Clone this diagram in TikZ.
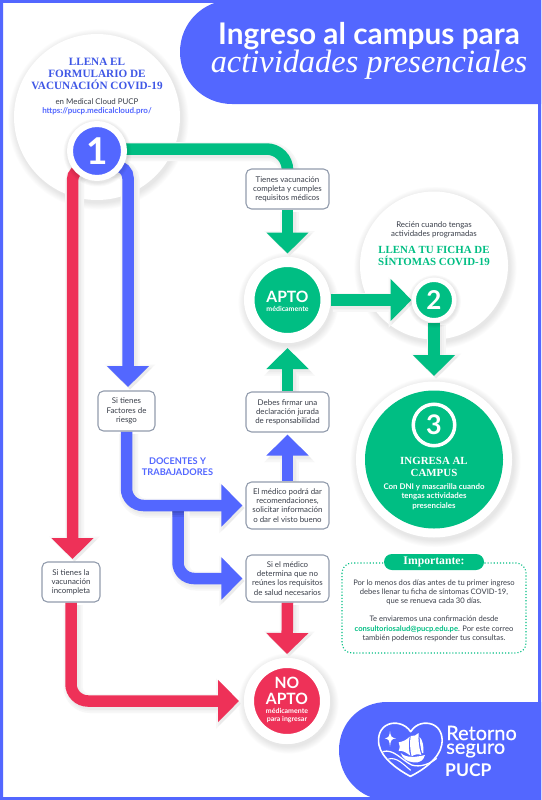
\documentclass[tikz,border=0pt]{standalone}
\usepackage{fontspec}
\setmainfont{Lato}
\newfontfamily\srf{Liberation Serif}
\newfontfamily\medf[FakeBold=0.3]{Lato}
\usetikzlibrary{arrows.meta}
\definecolor{bl}{HTML}{5367FF}
\definecolor{gr}{HTML}{00BE83}
\definecolor{rd}{HTML}{EE3158}
\definecolor{dk}{HTML}{3A3F4A}
\definecolor{edge}{HTML}{929CAD}
\definecolor{hd}{HTML}{3F57E6}
\pgfdeclarelayer{bg}\pgfdeclarelayer{sh}\pgfdeclarelayer{arr}
\pgfsetlayers{bg,sh,arr,main}
\newcommand\fs[2]{\fontsize{#1}{#2}\selectfont}
\tikzset{
  infobox/.style={rectangle,rounded corners=5.5pt,draw=edge,line width=1.1pt,fill=white,text=dk,align=center,inner sep=0pt,
     font=\fs{7.9}{9.2},minimum width=83pt},
  numc/.style={circle,draw=white,inner sep=0pt,text=white,font=\bfseries},
  lab/.style={inner sep=0pt,align=center},
  fl/.style={line width=11.5pt,-{Triangle[length=21pt,width=41pt]}},
  shA/.style={line width=19pt,-{Triangle[length=25pt,width=49pt]},transform canvas={shift={(2pt,-2.5pt)}}},
  shB/.style={line width=15.5pt,-{Triangle[length=23pt,width=45pt]},transform canvas={shift={(2pt,-2.5pt)}}},
  shC/.style={line width=12.5pt,-{Triangle[length=21.5pt,width=42pt]},transform canvas={shift={(2pt,-2.5pt)}}},
}
% colour, options, path
\newcommand\flow[3]{%
  \begin{pgfonlayer}{sh}
    \draw[shA,black!3,#2] #3;
    \draw[shB,black!5,#2] #3;
    \draw[shC,black!8,#2] #3;
  \end{pgfonlayer}
  \begin{pgfonlayer}{arr}
    \draw[fl,#1,#2] #3;
  \end{pgfonlayer}}
\newcommand\softdisc[3]{%
  \begin{pgfonlayer}{bg}
  \foreach \k in {8,7,...,1}
    \fill[black,opacity=.012] (#1+1.5,#2+2.5) circle ({#3+\k*0.9});
  \fill[white] (#1,#2) circle (#3);
  \end{pgfonlayer}}
\newcommand\halo[3]{%
  \begin{pgfonlayer}{arr}
  \foreach \k in {5,4,...,1}
    \fill[black,opacity=.02] (#1+.5,#2+1.5) circle ({#3+\k*0.8});
  \end{pgfonlayer}}
\begin{document}
\begin{tikzpicture}[x=1pt,y=-1pt]
\useasboundingbox (0,0) rectangle (541,800);
\begin{pgfonlayer}{bg}
\fill[white] (0,0) rectangle (541,800);
\end{pgfonlayer}
% frame
\fill[bl,even odd rule] (0,0) rectangle (541,800) (3,3) rectangle (538,797);
% title and logo blobs
\fill[bl] (232,0) .. controls (203,0) and (180,23) .. (180,52) .. controls (180,81) and (203,104) .. (232,104) -- (541,104) -- (541,0) -- cycle;
\fill[bl] (387,702) .. controls (360,702) and (339,723) .. (339,750) .. controls (339,777) and (360,800) .. (387,800) -- (541,800) -- (541,702) -- cycle;
\node[lab,text=white,font=\fs{29.8}{30}\bfseries] (title1) at (369,36) {Ingreso al campus para};
\node[lab,text=white,font=\fs{32.4}{32}\srf\itshape] (title2) at (369,65) {actividades presenciales};
% big discs
\softdisc{97}{117}{83}
\softdisc{434}{265.5}{74}
\softdisc{434}{459.5}{78}
\node[lab,text=hd,font=\fs{11.2}{12.1}\srf\bfseries] (t1) at (97,74) {LLENA EL\\FORMULARIO DE\\VACUNACIÓN COVID-19};
\node[lab,text=dk,font=\fs{7.9}{9.3}] (t1b) at (97,102) {en Medical Cloud PUCP};
\node[lab,text=bl,font=\fs{8}{9.3}\bfseries] (t1c) at (97,111) {https://pucp.medicalcloud.pro/};
\node[lab,text=dk,font=\fs{7.9}{9.3}] (t2) at (434,229.5) {Recién cuando tengas\\actividades programadas};
\node[lab,text=gr,font=\fs{10.9}{12.1}\srf\bfseries] (t2b) at (434,256) {LLENA TU FICHA DE\\SÍNTOMAS COVID-19};
% circles
\softdisc{287}{300}{43}
\softdisc{287}{701}{43}
\node[numc,fill=bl,line width=6pt,minimum size=54pt,font=\fs{37}{37}\bfseries] (n1) at (97,151) {1};
\node[numc,fill=gr,line width=10pt,minimum size=76pt] (apto) at (287.5,300) {};
\node[lab,text=white,font=\fs{15.6}{16}\bfseries] (aptot) at (287.5,296.5) {APTO};
\node[lab,text=white,font=\fs{7}{8}\bfseries] (aptos) at (287.5,308.5) {médicamente};
\node[numc,fill=gr,line width=4.5pt,minimum size=40.5pt,font=\fs{26}{26}\bfseries] (n2) at (434,300) {2};
\node[numc,fill=rd,line width=10pt,minimum size=76pt] (noapto) at (287,701) {};
\node[lab,text=white,font=\fs{15.6}{16}\bfseries] (not) at (287,690.5) {NO\\APTO};
\node[lab,text=white,font=\fs{7}{8.3}\bfseries] (nos) at (287,715.5) {médicamente\\para ingresar};
\node[circle,fill=gr,minimum size=138pt,inner sep=0pt] (c3) at (434,459.5) {};
\node[numc,fill=gr,line width=3.5pt,minimum size=41.5pt,font=\fs{27}{27}\bfseries] (n3) at (434,425) {3};
\node[lab,text=white,font=\fs{10.9}{12.3}\srf\bfseries] (t3) at (434,467) {INGRESA AL\\CAMPUS};
\node[lab,text=white,font=\fs{7.9}{9.3}\bfseries] (t3b) at (434,496.5) {Con DNI y mascarilla cuando\\tengas actividades\\presenciales};
% boxes
\node[infobox,minimum height=40pt] (b1) at (287.5,189) {Tienes vacunación\\completa y cumples\\requisitos médicos};
\node[infobox,minimum width=57pt,minimum height=40pt] (b2) at (126.5,411) {Si tienes\\Factores de\\riesgo};
\node[infobox,minimum height=47pt] (b3) at (287.5,505.5) {El médico podrá dar\\recomendaciones,\\solicitar información\\o dar el visto bueno};
\node[infobox,minimum height=40pt] (b4) at (287.5,412) {Debes firmar una\\declaración jurada\\de responsabilidad};
\node[infobox,minimum height=47pt] (b6) at (287.5,578.5) {Si el médico\\determina que no\\reúnes los requisitos\\de salud necesarios};
\node[infobox,minimum width=58pt,minimum height=40pt] (b5) at (71,582) {Si tienes la\\vacunación\\incompleta};
\node[lab,text=bl,font=\fs{9.2}{10.8}\bfseries] (doc) at (177.5,466.5) {DOCENTES Y\\TRABAJADORES};
% free ends
\coordinate (gs) at (97,149);
\coordinate (rt) at (72.5,168);
\coordinate (re) at (72.5,562);
\coordinate (bt) at (128,166);
\coordinate (be) at (128,391);
\coordinate (bj) at (178,505);
% connectors
\flow{gr}{-,rounded corners=21pt}{(gs) -| (b1.north)}
\flow{gr}{shorten >=3.5pt}{(b1.south) -- (apto.north)}
\flow{gr}{shorten >=2pt}{(b4.north) -- ([yshift=-3pt]apto.south)}
\flow{gr}{}{(apto.east) -- (n2.west)}
\flow{gr}{shorten >=5pt}{(n2.south) -- (c3.north |- 0,381)}
\flow{bl}{shorten >=2pt}{(b3.north) -- (b4.south)}
\flow{rd}{rounded corners=12pt,shorten >=3pt}{(n1.center) |- (rt) -- (re)}
\flow{bl}{rounded corners=12pt,shorten >=4pt}{(n1.center) |- (bt) -- (be)}
\flow{bl}{rounded corners=17pt,shorten >=3pt}{(b2.south) |- (b3.west)}
\flow{bl}{rounded corners=16pt,shorten >=3pt}{(bj) |- (b6.west)}
\flow{rd}{shorten >=4pt}{(b6.south) -- (noapto.north)}
\flow{rd}{rounded corners=17pt,shorten >=5pt}{(b5.south) |- (noapto.west)}
\halo{97}{151}{30}
\halo{434}{300}{22.5}
% shade where the branch leaves the main blue line
\begin{pgfonlayer}{arr}
\foreach \h in {2,4,6}
  \fill[black,opacity=.07] (172.3,511) rectangle (183.7,511+\h);
\end{pgfonlayer}
% Importante
\draw[gr,line width=1.1pt,dotted,rounded corners=10pt] (342,563) rectangle (526,653);
\node[rectangle,rounded corners=8pt,fill=gr,minimum width=100pt,minimum height=16pt,inner sep=0pt,text=white,font=\fs{11.7}{12}\srf\bfseries] (imp) at (434,562) {Importante:};
\node[lab,text=dk,font=\fs{7.6}{9.2}] (body) at (434,610.5) {Por lo menos dos días antes de tu primer ingreso\\debes llenar tu ficha de síntomas COVID-19,\\que se renueva cada 30 días.\\[9.2pt]Te enviaremos una confirmación desde\\{\color{gr}\bfseries consultoriosalud@pucp.edu.pe}. Por este correo\\también podemos responder tus consultas.};
% logo text
\node[lab,anchor=west,text=white,font=\fs{20}{18}\medf] (r1) at (446,733) {Retorno};
\node[lab,anchor=west,text=white,font=\fs{20}{18}\medf] (r2) at (446,750.5) {seguro};
\node[lab,anchor=west,text=white,font=\fs{17.5}{19}\bfseries] (r3) at (445,770) {PUCP};
% heart and ship
\begin{scope}[shift={(370,705)},x=.3333pt,y=-.3333pt]
\draw[white,line width=1.6pt,line join=round] (122,80) .. controls (105,55) and (75,50) .. (55,58) .. controls (30,68) and (22,95) .. (27,120) .. controls (35,160) and (85,195) .. (121,214) .. controls (160,195) and (208,160) .. (215,120) .. controls (220,95) and (212,68) .. (187,58) .. controls (165,50) and (138,55) .. (122,80) -- cycle;
\fill[white] (60,78) .. controls (62,95) and (64,98) .. (78,100) .. controls (64,102) and (62,105) .. (60,125) .. controls (58,105) and (56,102) .. (44,100) .. controls (56,98) and (58,95) .. (60,78) -- cycle;
\fill[white] (86,112) .. controls (98,110) and (110,105) .. (119,95) .. controls (115,115) and (115,135) .. (121,152) .. controls (108,142) and (98,136) .. (86,138) .. controls (90,128) and (90,120) .. (86,112) -- cycle;
\fill[white] (122,93) .. controls (130,95) and (140,90) .. (146,84) .. controls (144,105) and (147,130) .. (154,150) .. controls (144,146) and (134,148) .. (125,154) .. controls (120,135) and (119,112) .. (122,93) -- cycle;
\fill[white] (149,96) .. controls (158,105) and (162,125) .. (160,144) -- (156,144) .. controls (152,128) and (149,112) .. (149,96) -- cycle;
\fill[white] (92,144) .. controls (100,152) and (120,162) .. (165,150) .. controls (160,167) and (150,174) .. (130,172) .. controls (112,170) and (98,162) .. (92,144) -- cycle;
\draw[white,line width=1.3pt] (38,140) .. controls (70,130) and (95,165) .. (125,180) .. controls (150,188) and (180,177) .. (200,160);
\draw[white,line width=1.1pt] (55,162) .. controls (80,155) and (100,178) .. (122,196);
\end{scope}
\end{tikzpicture}
\end{document}
